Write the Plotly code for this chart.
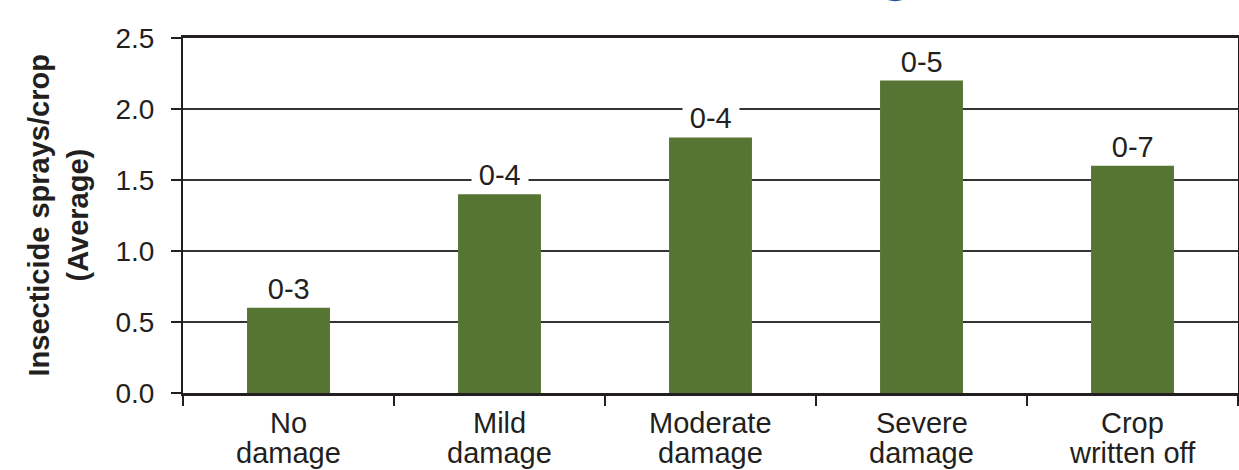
import plotly.graph_objects as go

categories = ["No<br>damage", "Mild<br>damage", "Moderate<br>damage", "Severe<br>damage", "Crop<br>written off"]
avg_sprays = [0.6, 1.4, 1.8, 2.2, 1.6]
spray_ranges = ["0-3", "0-4", "0-4", "0-5", "0-7"]
y_ticks = [0.0, 0.5, 1.0, 1.5, 2.0, 2.5]
y_tick_labels = ["0.0", "0.5", "1.0", "1.5", "2.0", "2.5"]
y_title_lines = ["Insecticide sprays/crop", "(Average)"]

FONT = "Liberation Sans, Arial, Helvetica, sans-serif"
TXT = "#231f20"
BAR = "#567533"

L, T, R, B = 183, 38, 1, 77
W, H = 1239, 470
PW = W - L - R

fig = go.Figure()
fig.add_trace(go.Bar(
    x=categories, y=avg_sprays,
    marker=dict(color=BAR, line=dict(width=0)),
    hoverinfo="skip",
))

annotations = []
for c, v, r in zip(categories, avg_sprays, spray_ranges):
    annotations.append(dict(
        x=c, y=v, xref="x", yref="y", text="\u2009" + r + "\u2009", showarrow=False,
        yanchor="bottom", yshift=1, bgcolor="white", borderpad=1,
        font=dict(family=FONT, size=29, color=TXT),
    ))

# category labels, one annotation per line for tight line spacing
for c in categories:
    for i, line in enumerate(c.split("<br>")):
        annotations.append(dict(
            x=c, y=0, xref="x", yref="paper", text=line, showarrow=False,
            yanchor="middle", yshift=-30 - 30 * i,
            font=dict(family=FONT, size=29, color=TXT),
        ))

# y-axis title, two lines
for line, px in zip(y_title_lines, [38, 77]):
    annotations.append(dict(
        x=-(183 - px) / PW, y=0.5, xref="paper", yref="paper",
        text="<b>" + line + "</b>",
        textangle=-90, showarrow=False, xanchor="center", yanchor="middle",
        font=dict(family=FONT, size=29, color=TXT),
    ))

fig.update_layout(
    width=W, height=H,
    margin=dict(l=L, r=R, t=T, b=B, autoexpand=False),
    paper_bgcolor="white", plot_bgcolor="white",
    bargap=0.607,
    showlegend=False,
    hovermode=False,
    annotations=annotations,
    font=dict(family=FONT, size=28, color=TXT),
    shapes=[dict(
        type="circle", xref="paper", yref="paper",
        x0=0.655, x1=0.695, y0=1.108, y1=1.226,
        line=dict(color="#1f4e9a", width=3),
    )],
)

fig.update_xaxes(
    automargin=False,
    showline=True, linewidth=3, linecolor=TXT, mirror=True,
    ticks="outside", tickson="boundaries", ticklen=10, tickwidth=2, tickcolor=TXT,
    showgrid=False, showticklabels=False,
)
fig.update_yaxes(
    automargin=False,
    range=[0, 2.5], tickvals=y_ticks, ticktext=y_tick_labels,
    showline=True, linewidth=2, linecolor=TXT, mirror=True,
    ticks="outside", ticklen=10, tickwidth=2, tickcolor=TXT,
    ticklabelstandoff=11,
    showgrid=True, gridcolor="#333333", gridwidth=1.2, zeroline=False,
    tickfont=dict(family=FONT, size=28, color=TXT),
)

# remove the page's default 8px body margin so the figure fills the window exactly
fig.write_html(
    "out.html",
    config={"displayModeBar": False, "staticPlot": True},
    post_script="document.body.style.margin='0';document.body.style.overflow='hidden';",
)
